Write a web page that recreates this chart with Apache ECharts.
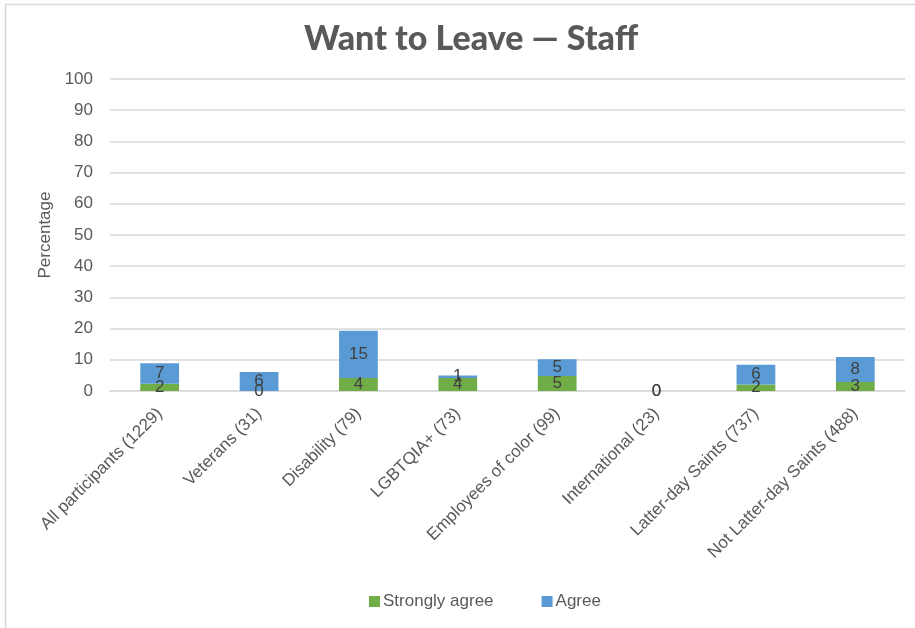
<!DOCTYPE html>
<html><head><meta charset="utf-8">
<script src="https://cdn.jsdelivr.net/npm/echarts@6/dist/echarts.min.js"></script>
<style>html,body{margin:0;padding:0;background:#fff}#c{width:915px;height:628px}</style>
</head><body><div id="c"></div>
<script>
const categories = ["All participants (1229)","Veterans (31)","Disability (79)","LGBTQIA+ (73)","Employees of color (99)","International (23)","Latter-day Saints (737)","Not Latter-day Saints (488)"];
const stronglyAgree = [2.3, 0, 4.2, 4.2, 4.8, 0, 2.1, 2.9];
const agree = [6.6, 6.1, 15.1, 0.8, 5.4, 0, 6.3, 8.0];
const yTicks = [0,10,20,30,40,50,60,70,80,90,100];

const chart = echarts.init(document.getElementById('c'));
const FF = 'Liberation Sans, Arial';
const lbl = {show:true, position:'inside', color:'#404040', fontSize:17, fontFamily:FF, formatter: p => Math.round(p.value)};
chart.setOption({
  animation:false,
  graphic:[{type:'rect', shape:{x:5.5,y:4.5,width:1000,height:1000}, style:{fill:'none', stroke:'#d9d9d9', lineWidth:1.5}, z:-1}],
  title:{text:'Want to Leave — Staff', left:466, textAlign:'center', top:17, textStyle:{fontFamily:'Lato', fontWeight:900, fontSize:34, color:'#595959'}},
  grid:{left:110, right:10, top:79, bottom:237},
  legend:{bottom:13, left:364, itemWidth:11, itemHeight:11, itemGap:48, icon:'rect', textStyle:{fontFamily:FF, fontSize:17, color:'#595959', padding:[0,0,0,-2]}, data:['Strongly agree','Agree']},
  xAxis:{type:'category', data:categories, axisLine:{lineStyle:{color:'#d9d9d9', width:1.5}}, axisTick:{show:false},
    axisLabel:{rotate:45, interval:0, fontFamily:FF, fontSize:17, color:'#595959', margin:20}},
  yAxis:{type:'value', min:yTicks[0], max:yTicks[yTicks.length-1], interval:10, name:'Percentage', nameLocation:'middle', nameGap:54,
    nameTextStyle:{fontFamily:FF, fontSize:17, color:'#595959'},
    axisLabel:{fontFamily:FF, fontSize:17, color:'#595959', margin:17},
    splitLine:{lineStyle:{color:'#d9d9d9', width:1.5}}, axisLine:{show:false}, axisTick:{show:false}},
  series:[
    {name:'Strongly agree', type:'bar', stack:'s', data:stronglyAgree, barWidth:'39%', itemStyle:{color:'#70ad47'}, label:lbl},
    {name:'Agree', type:'bar', stack:'s', data:agree, barWidth:'39%', itemStyle:{color:'#5b9bd5'}, label:lbl}
  ]
});
</script></body></html>
